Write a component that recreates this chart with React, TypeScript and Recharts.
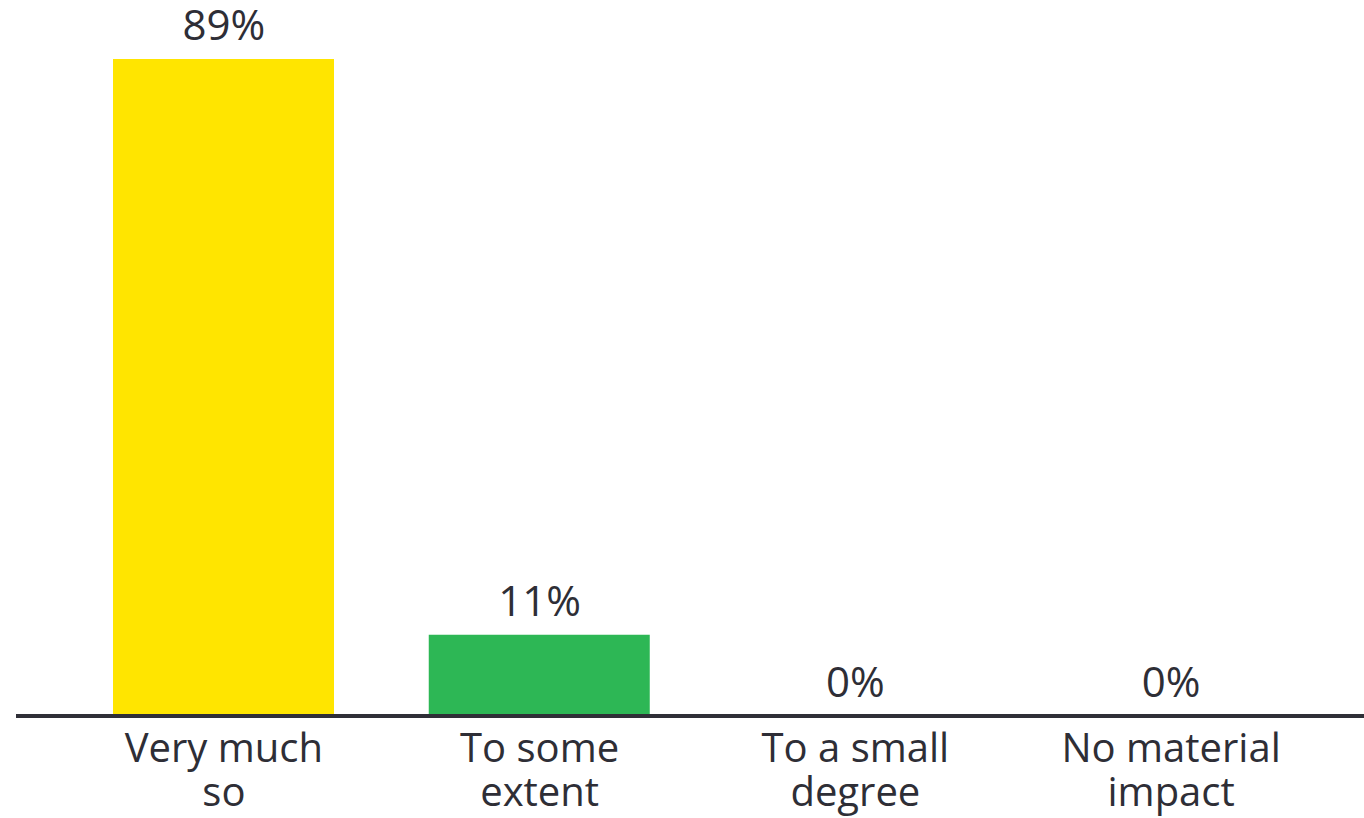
import React from "react";
import { ComposedChart, Bar, Line, XAxis, YAxis, LabelList, Cell } from "recharts";

const categories = ["Very much so", "To some extent", "To a small degree", "No material impact"];
const tickLines = [
  ["Very much", "so"],
  ["To some", "extent"],
  ["To a small", "degree"],
  ["No material", "impact"],
];
const shares = [89, 11, 0, 0];
const barColors = ["#FFE500", "#2DB755", "#2DB755", "#2DB755"];

const data = categories.map((name, i) => ({ name, share: shares[i] }));

const FONT = "'Open Sans', 'Noto Sans', sans-serif";
const TEXT = "#2e2e36";

const CategoryTick = (props: any) => {
  const { x, y, index } = props;
  const lines = tickLines[index] || [];
  return (
    <text textAnchor="middle" fontFamily={FONT} fontSize={40} fill={TEXT}>
      {lines.map((line, i) => (
        <tspan key={i} x={x} y={y + 46 + i * 44}>
          {line}
        </tspan>
      ))}
    </text>
  );
};

// labels ride on an invisible line so the 0% bars get one too
const ValueLabel = (props: any) => {
  const { x, y, value } = props;
  return (
    <text x={x} y={y - 19} textAnchor="middle" fontFamily={FONT} fontSize={42} fill={TEXT}>
      {`${value}%`}
    </text>
  );
};

export default function App() {
  return (
    <div style={{ position: "absolute", left: 0, top: 0, width: 1364, height: 818, background: "#fff" }}>
      <ComposedChart
        width={1364}
        height={818}
        data={data}
        margin={{ top: 59, right: 0, left: 16, bottom: 0 }}
        barSize={221}
      >
        <XAxis
          dataKey="name"
          height={102}
          padding={{ left: 50, right: 35 }}
          axisLine={{ stroke: "#2f2f37", strokeWidth: 4 }}
          tickLine={false}
          tickSize={0}
          tickMargin={0}
          interval={0}
          tick={<CategoryTick />}
        />
        <YAxis hide domain={[0, "dataMax"]} />
        <Bar dataKey="share" isAnimationActive={false}>
          {data.map((d, i) => (
            <Cell key={d.name} fill={barColors[i]} />
          ))}
        </Bar>
        <Line
          dataKey="share"
          stroke="none"
          dot={false}
          activeDot={false}
          isAnimationActive={false}
        >
          <LabelList dataKey="share" content={<ValueLabel />} />
        </Line>
      </ComposedChart>
    </div>
  );
}
